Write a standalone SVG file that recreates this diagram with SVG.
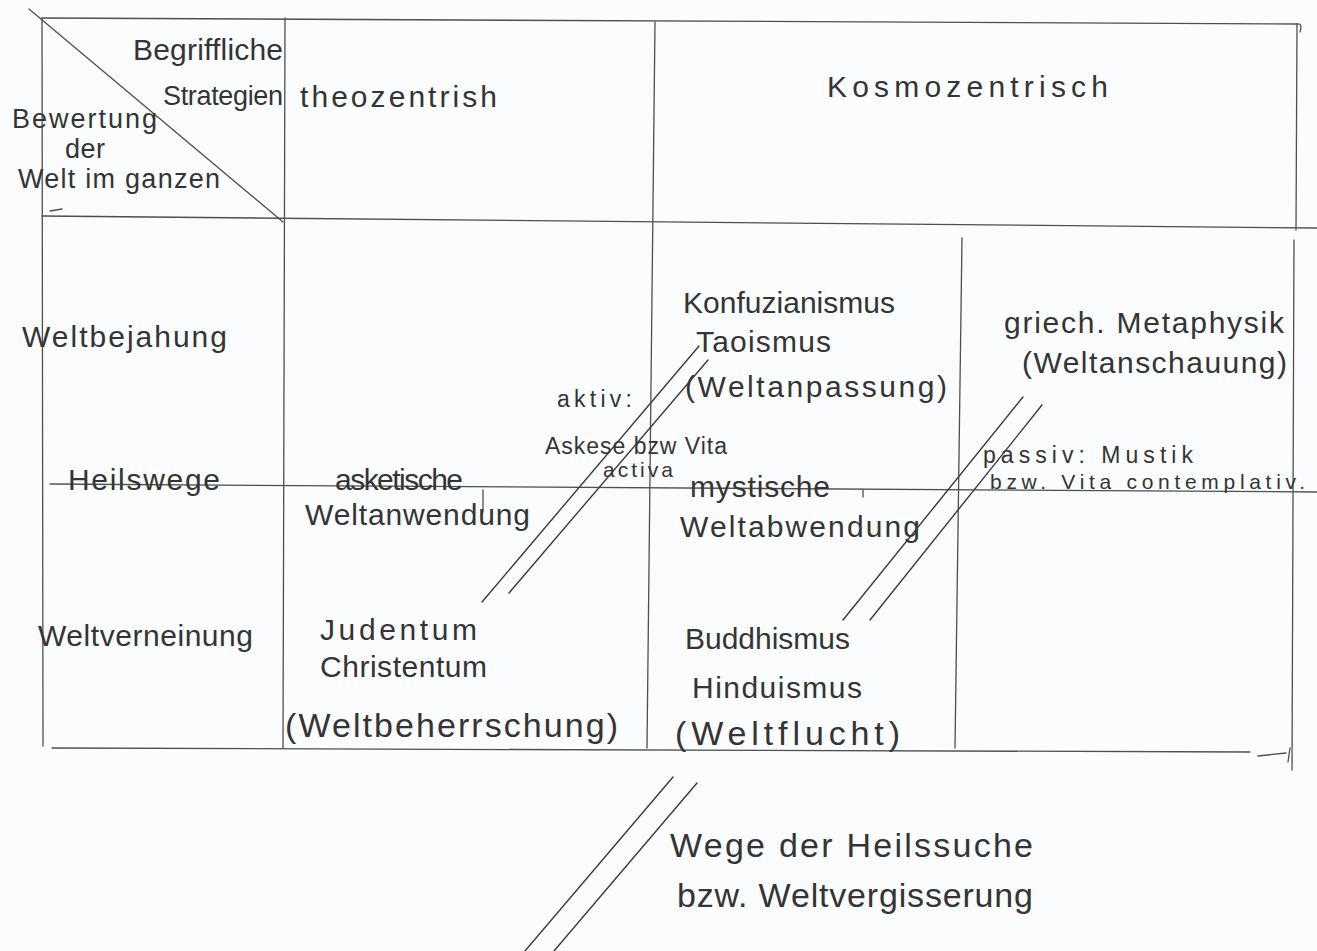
<svg xmlns="http://www.w3.org/2000/svg" width="1317" height="951" viewBox="0 0 1317 951">
  <style>
    .ln { stroke: #4f4f4f; stroke-width: 1.3; fill: none; stroke-linecap: round; }
    .pen { stroke: #3a3a3a; stroke-width: 1.4; fill: none; stroke-linecap: round; }
    .tx { font-family: "Liberation Sans", Arial, sans-serif; font-size: 30px; fill: #343434; }
    .xs { font-size: 21px; }
    .sm { font-size: 23px; }
    .md { font-size: 27px; }
    .lg { font-size: 34px; }
  </style>

  <!-- paper -->
  <rect x="0" y="0" width="1317" height="951" fill="#fbfcfd"/>

  <!-- table frame and cell rules -->
  <g id="table">
    <path class="ln" d="M42 18 L1297 24 Q1303 23 1300 32"/>
    <path class="ln" d="M42 18 L43 746"/>
    <path class="ln" d="M285 18 L283 748"/>
    <path class="ln" d="M655 22 L647 748"/>
    <path class="ln" d="M962 238 L955 748"/>
    <path class="ln" d="M1297 24 L1296 230"/>
    <path class="ln" d="M1294 240 L1292 770"/>
    <path class="ln" d="M42 216 L1317 228"/>
    <path class="ln" d="M50 484 L1317 492"/>
    <path class="ln" d="M52 748 L1250 752"/>
    <path class="ln" d="M1258 756 L1286 753 M1290 748 L1288 762"/>
    <path class="ln" d="M29 9 L283 222"/>
    <path class="ln" d="M50 211 L62 209"/>
    <path class="ln" d="M483 490 L483 512"/>
    <path class="ln" d="M863 490 L863 497"/>
  </g>

  <!-- header cells -->
  <g id="corner-top">
    <text class="tx" x="133" y="60" textLength="150">Begriffliche</text>
    <text class="tx md" x="163" y="105" textLength="120">Strategien</text>
  </g>
  <g id="corner-left">
    <text class="tx md" x="12" y="128" textLength="145">Bewertung</text>
    <text class="tx md" x="65" y="158" textLength="40">der</text>
    <text class="tx md" x="18" y="188" textLength="202">Welt im ganzen</text>
  </g>
  <g id="col-theozentrisch">
    <text class="tx" x="300" y="107" textLength="197">theozentrish</text>
  </g>
  <g id="col-kosmozentrisch">
    <text class="tx" x="827" y="97" textLength="281">Kosmozentrisch</text>
  </g>

  <!-- row labels -->
  <g id="row-weltbejahung">
    <text class="tx" x="22" y="347" textLength="205">Weltbejahung</text>
  </g>
  <g id="row-heilswege">
    <text class="tx" x="68" y="490" textLength="152">Heilswege</text>
  </g>
  <g id="row-weltverneinung">
    <text class="tx" x="38" y="646" textLength="215">Weltverneinung</text>
  </g>

  <!-- body cells -->
  <g id="asketisch">
    <text class="tx" x="335" y="490" textLength="128">asketische</text>
    <text class="tx" x="305" y="525" textLength="225">Weltanwendung</text>
  </g>
  <g id="aktiv">
    <text class="tx sm" x="557" y="407" textLength="75">aktiv:</text>
    <text class="tx sm" x="545" y="454" textLength="182">Askese bzw Vita</text>
    <text class="tx xs" x="603" y="477" textLength="70">activa</text>
  </g>
  <g id="konfuzianismus">
    <text class="tx" x="683" y="313" textLength="212">Konfuzianismus</text>
    <text class="tx" x="696" y="352" textLength="135">Taoismus</text>
    <text class="tx" x="685" y="397" textLength="262">(Weltanpassung)</text>
  </g>
  <g id="mystisch">
    <text class="tx" x="690" y="497" textLength="140">mystische</text>
    <text class="tx" x="680" y="537" textLength="240">Weltabwendung</text>
  </g>
  <g id="metaphysik">
    <text class="tx" x="1004" y="333" textLength="280">griech. Metaphysik</text>
    <text class="tx" x="1022" y="373" textLength="265">(Weltanschauung)</text>
  </g>
  <g id="passiv">
    <text class="tx sm" x="983" y="463" textLength="210">passiv: Mustik</text>
    <text class="tx xs" x="990" y="489" textLength="315">bzw. Vita contemplativ.</text>
  </g>
  <g id="judentum">
    <text class="tx" x="320" y="640" textLength="157">Judentum</text>
    <text class="tx" x="320" y="677" textLength="167">Christentum</text>
    <text class="tx lg" x="285" y="737" textLength="333">(Weltbeherrschung)</text>
  </g>
  <g id="buddhismus">
    <text class="tx" x="685" y="649" textLength="165">Buddhismus</text>
    <text class="tx" x="692" y="698" textLength="170">Hinduismus</text>
    <text class="tx lg" x="675" y="745" textLength="225">(Weltflucht)</text>
  </g>
  <g id="heilssuche">
    <text class="tx lg" x="670" y="857" textLength="363">Wege der Heilssuche</text>
    <text class="tx lg" x="677" y="907" textLength="356">bzw. Weltvergisserung</text>
  </g>

  <!-- double strokes -->
  <g id="links">
    <path class="pen" d="M699 346 L482 602"/>
    <path class="pen" d="M708 360 L509 593"/>
    <path class="pen" d="M1023 397 L843 620"/>
    <path class="pen" d="M1042 405 L870 620"/>
    <path class="pen" d="M673 777 L525 951"/>
    <path class="pen" d="M697 783 L554 951"/>
  </g>
</svg>
